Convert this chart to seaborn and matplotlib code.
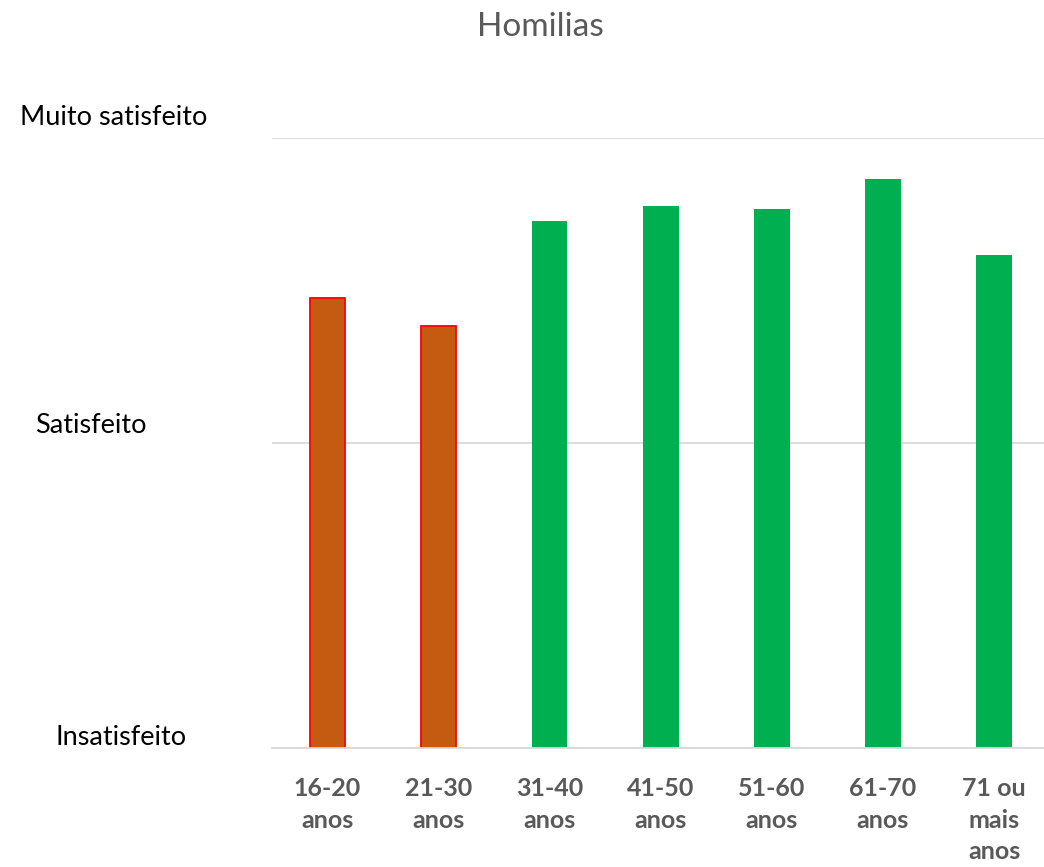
import matplotlib.pyplot as plt
import matplotlib.transforms as mtransforms
import seaborn as sns
import pandas as pd

# values on a 1-3 scale (1 = Insatisfeito, 3 = Muito satisfeito)
faixas = ["16-20\nanos", "21-30\nanos", "31-40\nanos", "41-50\nanos",
          "51-60\nanos", "61-70\nanos", "71 ou\nmais\nanos"]
media = [2.475, 2.384, 2.728, 2.777, 2.767, 2.866, 2.616]
cores = ["#C55A11", "#C55A11", "#00B050", "#00B050", "#00B050", "#00B050", "#00B050"]
bordas = ["#FF0000", "#FF0000", "none", "none", "none", "none", "none"]
niveis = [1, 2, 3]
nomes_niveis = ["Insatisfeito", "Satisfeito", "Muito satisfeito"]

df = pd.DataFrame({"faixa": faixas, "media": media})

sns.set_style("white")
plt.rcParams['font.family'] = ['Lato', 'DejaVu Sans']

fig = plt.figure(figsize=(10.44, 8.67), dpi=100)
ax = fig.add_axes([272/1044, 1-748/867, 772/1044, (748-138)/867])

sns.barplot(data=df, x="faixa", y="media", hue="faixa", palette=cores,
            saturation=1, legend=False, width=0.32, ax=ax)
for bar, ec in zip(ax.patches, bordas):
    if ec != "none":
        bar.set_edgecolor(ec)
        bar.set_linewidth(1.3)
    else:
        bar.set_linewidth(0)

# bars start at the bottom of the scale
for bar in ax.patches:
    h = bar.get_height()
    bar.set_y(1)
    bar.set_height(h - 1)

ax.set_ylim(1, 3)
ax.set_xlim(-0.5, 6.45)
ax.set_yticks(niveis)
ax.set_yticklabels(nomes_niveis, fontsize=19.5, color="black", ha="left")
ax.tick_params(axis="y", length=0, pad=0)
ax.tick_params(axis="x", length=0, pad=21)
for lab in ax.get_xticklabels():
    lab.set_fontsize(18)
    lab.set_fontweight("bold")
    lab.set_color("#595959")
    lab.set_linespacing(1.45)

# label placement (x in figure px from left, y offset up)
pos = {"Insatisfeito": (55, 13), "Satisfeito": (35, 20), "Muito satisfeito": (20, 23)}
for lab in ax.get_yticklabels():
    px, dy = pos[lab.get_text()]
    lab.set_x((px - 272) / 772)
    lab.set_transform(ax.get_yaxis_transform() +
                      mtransforms.ScaledTranslation(0, dy/100, fig.dpi_scale_trans))

ax.grid(axis="y", color="#D9D9D9", linewidth=1.3)
ax.set_axisbelow(True)
for s in ["top", "right", "left"]:
    ax.spines[s].set_visible(False)
ax.spines["bottom"].set_color("#D9D9D9")
ax.spines["bottom"].set_linewidth(1.3)
ax.set_xlabel("")
ax.set_ylabel("")

fig.text(540/1044, 1-27/867, "Homilias", ha="center", va="center",
         fontsize=24, color="#595959")

fig.savefig("out.png", dpi=100)
